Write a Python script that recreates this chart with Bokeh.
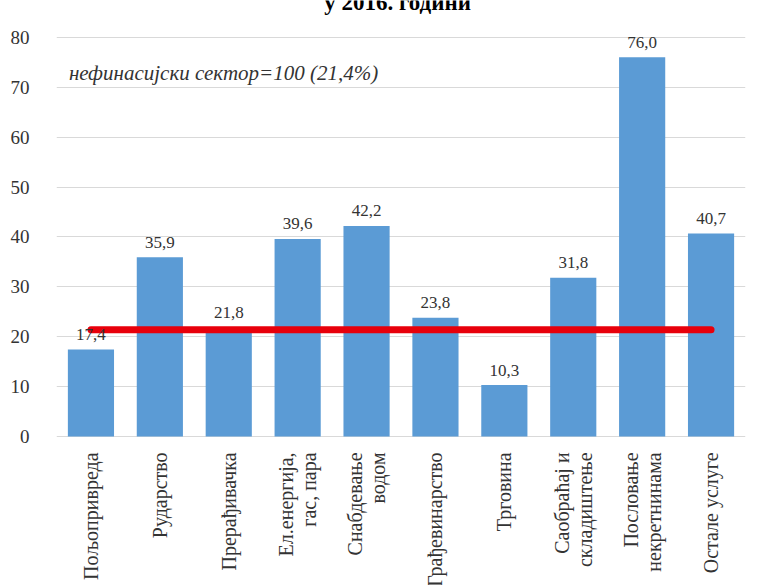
import math
from bokeh.plotting import figure
from bokeh.models import Label, FactorRange, FixedTicker, ColumnDataSource
from bokeh.embed import file_html
from bokeh.resources import INLINE
from bokeh.core.properties import value

# ---- data ----
categories = ["Пољопривреда", "Рударство", "Прерађивачка", "Ел.енергија, гас, пара",
              "Снабдевање водом", "Грађевинарство", "Трговина",
              "Саобраћај и складиштење", "Пословање некретнинама", "Остале услуге"]
tick_text = ["Пољопривреда", "Рударство", "Прерађивачка", "Ел.енергија,\nгас, пара",
             "Снабдевање\nводом", "Грађевинарство", "Трговина",
             "Саобраћај и\nскладиштење", "Пословање\nнекретнинама", "Остале услуге"]
values = [17.4, 35.9, 21.8, 39.6, 42.2, 23.8, 10.3, 31.8, 76.0, 40.7]
value_labels = ["17,4", "35,9", "21,8", "39,6", "42,2", "23,8", "10,3", "31,8", "76,0", "40,7"]
average = 21.4
y_ticks = [0, 10, 20, 30, 40, 50, 60, 70, 80]
title_text = "у 2016. години"
note_text = "нефинасијски сектор=100 (21,4%)"

SERIF = "Liberation Serif"
TXT = "#333333"

src = ColumnDataSource(dict(cat=categories, val=values, lab=value_labels,
                            tick=tick_text, zero=[0] * len(categories)))

# frame spans the full canvas height; the value axis only ticks 0..80
p = figure(x_range=FactorRange(*categories), y_range=(-29.9, 87.4),
           width=769, height=585, output_backend="svg", toolbar_location=None,
           min_border_left=56, min_border_right=24, min_border_top=0, min_border_bottom=0)
p.outline_line_color = None
p.background_fill_color = "white"
p.border_fill_color = "white"

p.vbar(x="cat", top="val", width=0.67, source=src, fill_color="#5B9BD5", line_color=None)

avg_src = ColumnDataSource(dict(cat=categories, avg=[average] * len(categories)))
p.line(x="cat", y="avg", source=avg_src, line_color="#E8000B", line_width=7, line_cap="round")

p.text(x="cat", y="val", text="lab", source=src, text_align="center", text_baseline="alphabetic",
       y_offset=-15, text_font=value(SERIF), text_font_size="17px", text_color=TXT)

# category labels, vertical and multi-line, below the zero line
p.text(x="cat", y="zero", text="tick", source=src, angle=math.pi / 2,
       text_align="right", text_baseline="middle", y_offset=16,
       text_font=value(SERIF), text_font_size="20px", text_color=TXT,
       text_line_height=1.05)

# axes
p.xaxis.visible = False
p.yaxis.ticker = FixedTicker(ticks=y_ticks)
p.yaxis.axis_line_color = None
p.yaxis.major_tick_line_color = None
p.yaxis.minor_tick_line_color = None
p.yaxis.major_label_text_font = SERIF
p.yaxis.major_label_text_font_size = "19px"
p.yaxis.major_label_text_color = TXT
p.yaxis.major_label_standoff = 21

p.xgrid.grid_line_color = None
p.ygrid.ticker = FixedTicker(ticks=y_ticks)
p.ygrid.grid_line_color = "#D9D9D9"
p.ygrid.grid_line_width = 1

p.add_layout(Label(x=0.18, y=72.9, text=note_text, text_font=SERIF, text_font_style="italic",
                   text_font_size="21px", text_color=TXT, text_baseline="middle"))

# chart title (its upper part lies above the visible area, as in the source image)
p.add_layout(Label(x=4.95, y=87.0, text=title_text, text_font=SERIF, text_font_style="bold",
                   text_font_size="23px", text_color="#000000", text_align="center",
                   text_baseline="alphabetic"))

open("out.html", "w").write(file_html(p, INLINE))
